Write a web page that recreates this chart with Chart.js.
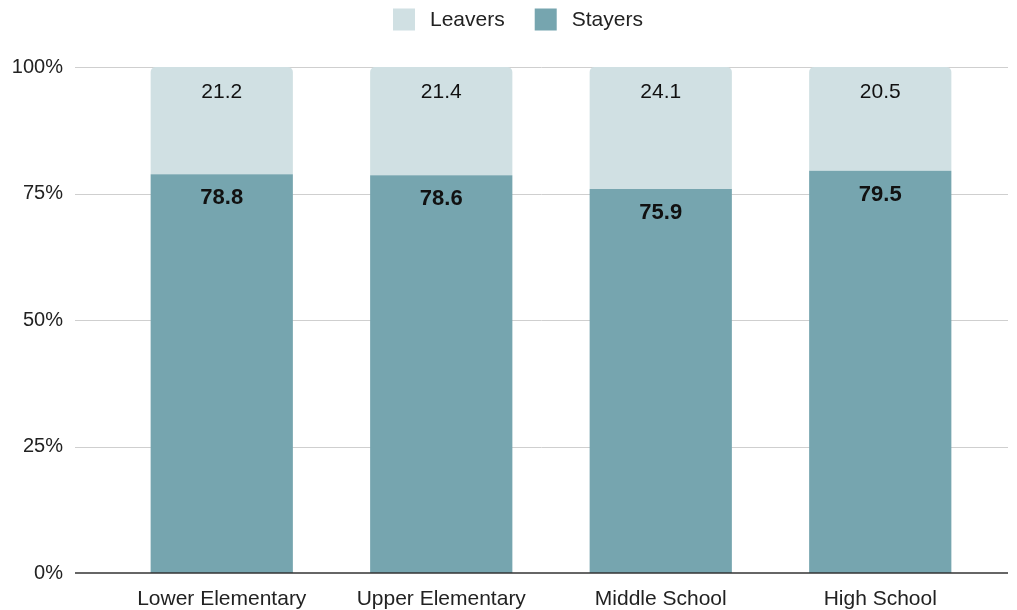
<!DOCTYPE html>
<html>
<head>
<meta charset="utf-8">
<script src="https://cdn.jsdelivr.net/npm/chart.js@4/dist/chart.umd.min.js"></script>
<style>
  html, body { margin: 0; padding: 0; background: #fff; overflow: hidden; }
  #wrap { position: relative; width: 1017px; height: 610px; }
  #chart { display: block; }
</style>
</head>
<body>
<div id="wrap"><canvas id="chart"></canvas></div>
<script>
// School levels and the share of teachers who left or stayed (percent)
const categories = ['Lower Elementary', 'Upper Elementary', 'Middle School', 'High School'];
const stayers = [78.8, 78.6, 75.9, 79.5];
const leavers = [21.2, 21.4, 24.1, 20.5];
const yTicks = [0, 25, 50, 75, 100];

const FONT = '"Liberation Sans", Arial, sans-serif';
const TEXT = '#222222';

// Horizontal grid and baseline drawn wider than the category band
const wideGrid = {
  id: 'wideGrid',
  beforeDatasetsDraw(chart) {
    const { ctx } = chart;
    const y = chart.scales.y;
    ctx.save();
    ctx.strokeStyle = '#cfcfcf';
    ctx.lineWidth = 1;
    yTicks.forEach(v => {
      if (v === 0) return;
      const py = Math.round(y.getPixelForValue(v)) + 0.5;
      ctx.beginPath();
      ctx.moveTo(75, py);
      ctx.lineTo(1008, py);
      ctx.stroke();
    });
    ctx.restore();
  },
  afterDatasetsDraw(chart) {
    const { ctx } = chart;
    const py = Math.round(chart.scales.y.getPixelForValue(0));
    ctx.save();
    ctx.strokeStyle = '#333333';
    ctx.lineWidth = 1.5;
    ctx.beginPath();
    ctx.moveTo(75, py);
    ctx.lineTo(1008, py);
    ctx.stroke();
    ctx.restore();
  }
};

// Value labels near the top of each segment
const segmentLabels = {
  id: 'segmentLabels',
  afterDatasetsDraw(chart) {
    const { ctx } = chart;
    ctx.save();
    ctx.textAlign = 'center';
    ctx.textBaseline = 'middle';
    ctx.fillStyle = '#111111';
    chart.data.datasets.forEach((ds, i) => {
      const meta = chart.getDatasetMeta(i);
      const bold = ds.label === 'Stayers';
      ctx.font = (bold ? 'bold 22px ' : '21px ') + FONT;
      meta.data.forEach((bar, j) => {
        ctx.fillText(ds.data[j].toFixed(1), bar.x, bar.y + (bold ? 24 : 25));
      });
    });
    ctx.restore();
  }
};

// Legend row above the plot: Leavers first, then Stayers
const topLegend = {
  id: 'topLegend',
  afterDraw(chart) {
    const { ctx } = chart;
    const items = ['Leavers', 'Stayers'].map(name =>
      chart.data.datasets.find(d => d.label === name));
    ctx.save();
    ctx.font = '21px ' + FONT;
    ctx.textBaseline = 'middle';
    ctx.textAlign = 'left';
    let x = 393;
    const cy = 19.5;
    items.forEach(ds => {
      ctx.fillStyle = ds.backgroundColor;
      ctx.fillRect(x, cy - 11, 22, 22);
      x += 22 + 15;
      ctx.fillStyle = TEXT;
      ctx.fillText(ds.label, x, cy + 1);
      x += ctx.measureText(ds.label).width + 30;
    });
    ctx.restore();
  }
};

new Chart(document.getElementById('chart'), {
  type: 'bar',
  data: {
    labels: categories,
    datasets: [
      {
        label: 'Stayers',
        data: stayers,
        backgroundColor: '#76a5af',
        borderRadius: 0
      },
      {
        label: 'Leavers',
        data: leavers,
        backgroundColor: '#d0e0e3',
        borderRadius: { topLeft: 5, topRight: 5, bottomLeft: 0, bottomRight: 0 },
        borderSkipped: false
      }
    ]
  },
  options: {
    responsive: true,
    maintainAspectRatio: false,
    animation: false,
    layout: { padding: { top: 67, right: 27, left: 0, bottom: 0 } },
    datasets: { bar: { barPercentage: 1, categoryPercentage: 0.648 } },
    plugins: {
      tooltip: { enabled: false },
      legend: { display: false }
    },
    scales: {
      x: {
        stacked: true,
        afterFit(scale) { scale.height = 37; },
        grid: { display: false, drawTicks: false },
        border: { display: false },
        ticks: {
          color: TEXT,
          padding: 14,
          maxRotation: 0,
          font: { family: FONT, size: 21 }
        }
      },
      y: {
        stacked: true,
        min: 0,
        max: 100,
        afterFit(scale) { scale.width = 112; },
        afterBuildTicks(scale) { scale.ticks = yTicks.map(v => ({ value: v })); },
        grid: { display: false, drawTicks: true, tickLength: 44 },
        border: { display: false },
        ticks: {
          color: TEXT,
          padding: 5,
          font: { family: FONT, size: 20 },
          callback: v => v + '%'
        }
      }
    }
  },
  plugins: [wideGrid, segmentLabels, topLegend]
});
</script>
</body>
</html>
